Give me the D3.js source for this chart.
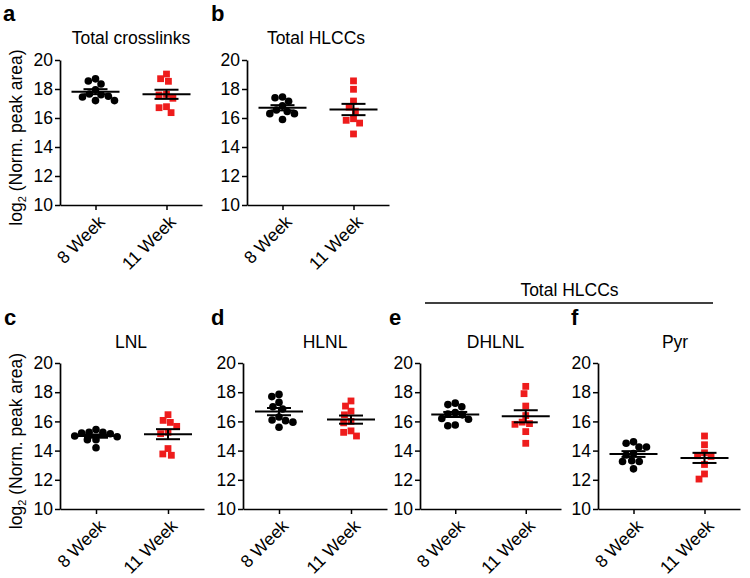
<!DOCTYPE html>
<html>
<head>
<meta charset="utf-8">
<script src="https://cdn.jsdelivr.net/npm/d3@7/dist/d3.min.js"></script>
<style>
  html, body { margin: 0; padding: 0; background: #fff; }
  svg { display: block; font-family: "Liberation Sans", Arial, sans-serif; }
</style>
</head>
<body>
<svg id="chart" width="750" height="578"></svg>
<script>
// ---------------- data ----------------
const categories = ["8 Week", "11 Week"];
const yTicks = [10, 12, 14, 16, 18, 20];
const panelLetters = ["a", "b", "c", "d", "e", "f"];
const panelTitles = ["Total crosslinks", "Total HLCCs", "LNL", "HLNL", "DHLNL", "Pyr"];
const groupLabel = "Total HLCCs";
const yLabel = "log";
const yLabelSub = "2";
const yLabelRest = " (Norm. peak area)";

// 8 Week values (black circles)
const wk8_a = [18.7, 18.55, 18.35, 17.95, 17.65, 17.6, 17.5, 17.45, 17.2, 17.2];
const wk8_b = [17.45, 17.4, 17.15, 16.85, 16.55, 16.45, 16.3, 16.3, 15.9];
const wk8_c = [15.45, 15.25, 15.25, 15.2, 15.15, 15.0, 14.95, 14.75, 14.75, 14.2];
const wk8_d = [17.85, 17.7, 17.3, 17.0, 16.85, 16.3, 16.1, 16.05, 15.95, 15.6];
const wk8_e = [17.25, 17.15, 17.0, 16.6, 16.5, 16.45, 16.2, 16.15, 15.75, 15.7];
const wk8_f = [14.6, 14.5, 14.25, 14.25, 13.8, 13.7, 13.3, 13.25, 13.25, 12.75];
// 11 Week values (red squares)
const wk11_a = [19.03, 18.71, 18.53, 17.63, 17.59, 17.36, 16.78, 16.71, 16.37];
const wk11_b = [18.56, 17.98, 17.17, 16.75, 16.47, 15.95, 15.84, 15.65, 14.9];
const wk11_c = [16.46, 16.07, 15.93, 15.66, 15.25, 15.16, 14.14, 13.77, 13.68];
const wk11_d = [17.4, 17.05, 16.7, 16.45, 16.0, 15.9, 15.35, 15.25, 15.0];
const wk11_e = [18.4, 17.9, 17.05, 16.4, 15.95, 15.85, 15.8, 15.3, 14.5];
const wk11_f = [15.0, 14.4, 13.85, 13.65, 13.6, 13.05, 12.4, 12.05];

const wk8 = [wk8_a, wk8_b, wk8_c, wk8_d, wk8_e, wk8_f];
const wk11 = [wk11_a, wk11_b, wk11_c, wk11_d, wk11_e, wk11_f];

// ---------------- layout ----------------
const rows = [{ top: 60, bottom: 205 }, { top: 363, bottom: 509 }];
const layout = [
  { row: 0, x0: 60,  x1: 202, titleDx: 0,   letterX: 3 },
  { row: 0, x0: 247, x1: 389, titleDx: -2,  letterX: 211 },
  { row: 1, x0: 60,  x1: 204, titleDx: -1,  letterX: 4 },
  { row: 1, x0: 243, x1: 387, titleDx: 10,  letterX: 211 },
  { row: 1, x0: 420, x1: 561, titleDx: 5,   letterX: 389 },
  { row: 1, x0: 598, x1: 740, titleDx: 6,   letterX: 571 }
];
const colors = ["#000000", "#ee1c1c"];
const FS = 17.5;

const svg = d3.select("#chart");

// simple beeswarm: returns x offsets
function swarm(values, yScale, diam) {
  const order = values.map((v, i) => i).sort((a, b) => values[b] - values[a]);
  const placed = [];
  const offs = new Array(values.length).fill(0);
  order.forEach(i => {
    const yi = yScale(values[i]);
    const forb = [];
    placed.forEach(p => {
      const dy = Math.abs(p.y - yi);
      if (dy < diam) {
        const w = Math.sqrt(diam * diam - dy * dy);
        forb.push([p.x - w, p.x + w]);
      }
    });
    const cands = [0];
    forb.forEach(f => { cands.push(f[0], f[1]); });
    cands.sort((a, b) => Math.abs(a) - Math.abs(b));
    let best = 0;
    for (const c of cands) {
      if (forb.every(f => c <= f[0] + 1e-6 || c >= f[1] - 1e-6)) { best = c; break; }
    }
    offs[i] = best;
    placed.push({ x: best, y: yi });
  });
  return offs;
}

layout.forEach((L, k) => {
  const R = rows[L.row];
  const y = d3.scaleLinear().domain([10, 20]).range([R.bottom, R.top]);
  const x = d3.scalePoint().domain(categories).range([L.x0, L.x1]).padding(0.5);
  const g = svg.append("g");

  // y axis
  const ya = g.append("g").attr("transform", `translate(${L.x0},0)`)
    .call(d3.axisLeft(y).tickValues(yTicks).tickSize(5).tickSizeOuter(0).tickPadding(2));
  ya.select(".domain").attr("stroke", "#000").attr("stroke-width", 1.7);
  ya.selectAll(".tick line").attr("stroke", "#000").attr("stroke-width", 1.5);
  ya.selectAll(".tick text").attr("font-size", FS).attr("fill", "#000")
    .attr("font-family", "Liberation Sans, Arial, sans-serif");

  // x axis
  const xa = g.append("g").attr("transform", `translate(0,${R.bottom})`)
    .call(d3.axisBottom(x).tickSize(5).tickSizeOuter(0));
  xa.select(".domain").attr("stroke", "#000").attr("stroke-width", 1.7);
  xa.selectAll(".tick line").attr("stroke", "#000").attr("stroke-width", 1.5);
  xa.selectAll(".tick text").attr("font-size", FS).attr("fill", "#000")
    .attr("font-family", "Liberation Sans, Arial, sans-serif")
    .attr("x", 0).attr("y", 0).attr("dy", 0)
    .attr("text-anchor", "end")
    .attr("transform", "translate(10,18) rotate(-45)");

  // title
  g.append("text").attr("x", (L.x0 + L.x1) / 2 + L.titleDx).attr("y", L.row === 0 ? 44 : 348)
    .attr("text-anchor", "middle").attr("font-size", FS).text(panelTitles[k]);

  // panel letter
  g.append("text").attr("x", L.letterX).attr("y", L.row === 0 ? 21 : 325)
    .attr("font-size", 22).attr("font-weight", "bold").text(panelLetters[k]);

  // data
  [wk8[k], wk11[k]].forEach((vals, gi) => {
    const cx = x(categories[gi]);
    const offs = swarm(vals, y, 7.5);
    if (gi === 0) {
      g.selectAll(null).data(vals).enter().append("circle")
        .attr("cx", (d, i) => cx + offs[i]).attr("cy", d => y(d))
        .attr("r", 3.8).attr("fill", colors[0]);
    } else {
      const s = 6.8;
      g.selectAll(null).data(vals).enter().append("rect")
        .attr("x", (d, i) => cx + offs[i] - s / 2).attr("y", d => y(d) - s / 2)
        .attr("width", s).attr("height", s).attr("fill", colors[1]);
    }
    const m = d3.mean(vals);
    const sem = d3.deviation(vals) / Math.sqrt(vals.length);
    const lg = g.append("g").attr("stroke", "#000").attr("stroke-width", 2).attr("fill", "none");
    lg.append("line").attr("x1", cx - 24).attr("x2", cx + 24).attr("y1", y(m)).attr("y2", y(m));
    lg.append("line").attr("x1", cx).attr("x2", cx).attr("y1", y(m + sem)).attr("y2", y(m - sem));
    lg.append("line").attr("x1", cx - 12).attr("x2", cx + 12).attr("y1", y(m + sem)).attr("y2", y(m + sem));
    lg.append("line").attr("x1", cx - 12).attr("x2", cx + 12).attr("y1", y(m - sem)).attr("y2", y(m - sem));
  });
});

// y-axis labels (rows)
rows.forEach(R => {
  const cy = (R.top + R.bottom) / 2 + 5;
  const t = svg.append("text").attr("transform", `translate(22,${cy}) rotate(-90)`)
    .attr("text-anchor", "middle").attr("font-size", FS);
  t.append("tspan").text(yLabel);
  t.append("tspan").attr("font-size", 11).attr("dy", 4).text(yLabelSub);
  t.append("tspan").attr("dy", -4).text(yLabelRest);
});

// group label over e and f
svg.append("text").attr("x", 569.5).attr("y", 296).attr("text-anchor", "middle")
  .attr("font-size", FS).text(groupLabel);
svg.append("line").attr("x1", 425).attr("x2", 713).attr("y1", 303).attr("y2", 303)
  .attr("stroke", "#000").attr("stroke-width", 1.5);
</script>
</body>
</html>
